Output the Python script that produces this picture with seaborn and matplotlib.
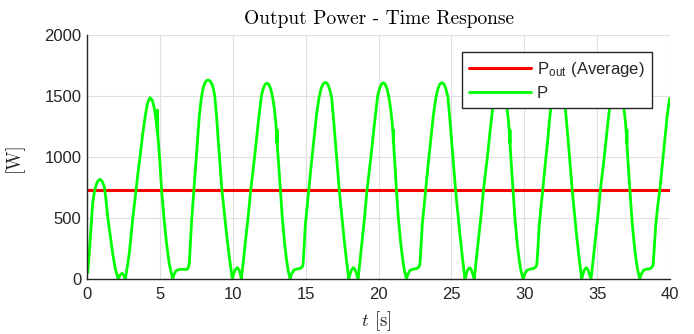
import matplotlib
matplotlib.use("Agg")
import matplotlib.pyplot as plt
import pandas as pd
import seaborn as sns

# ---- data (time in s, power in W) ----
t_seg01 = [0.05, 0.12, 0.2, 0.3, 0.39, 0.5, 0.62, 0.75, 0.89, 1.02, 1.19, 1.3, 1.42, 1.6, 1.76, 1.95, 2.1, 2.15, 2.25, 2.4, 2.52, 2.63]
p_seg01 = [50, 150, 290, 470, 620, 710, 770, 805, 817, 805, 757, 650, 511, 350, 210, 80, 15, 0, 30, 47, 30, 0]

t_seg02 = [2.75, 2.9, 3.13, 3.36, 3.5, 3.64, 3.8, 4.0, 4.15, 4.32, 4.48, 4.6, 4.72, 4.83, 4.84, 4.86, 5.0, 5.12, 5.28, 5.45, 5.65, 5.88]
p_seg02 = [90, 210, 484, 727, 870, 1000, 1170, 1340, 1440, 1486, 1465, 1410, 1320, 1194, 1385, 1180, 960, 727, 500, 300, 120, 0]

t_seg03 = [5.98, 6.12, 6.35, 6.55, 6.75, 6.88, 6.96, 7.02, 7.1, 7.18, 7.26, 7.33, 7.5, 7.62, 7.71, 7.85, 7.98, 8.1, 8.22, 8.33, 8.45, 8.57, 8.68, 8.77, 8.9, 9.0, 9.13, 9.26, 9.42, 9.58, 9.77, 9.97]
p_seg03 = [40, 70, 78, 80, 78, 80, 100, 130, 300, 480, 610, 727, 1000, 1200, 1344, 1490, 1570, 1610, 1628, 1631, 1622, 1598, 1555, 1494, 1320, 1140, 930, 727, 540, 361, 175, 0]

t_seg04 = [10.06, 10.16, 10.31, 10.43, 10.52, 10.59, 10.75, 10.9, 11.05, 11.23, 11.37, 11.5, 11.73, 11.96, 12.1, 12.23, 12.35, 12.47, 12.6, 12.72, 12.85, 12.95, 13.01, 13.03, 13.04, 13.05, 13.15, 13.27, 13.4, 13.55, 13.7, 13.8, 13.93]
p_seg04 = [40, 75, 93, 75, 40, 0, 170, 340, 500, 727, 870, 1000, 1260, 1500, 1565, 1596, 1604, 1596, 1560, 1500, 1400, 1290, 1180, 1115, 1222, 1105, 940, 727, 500, 300, 150, 70, 0]

t_seg05 = [14.03, 14.18, 14.38, 14.63, 14.73, 14.82, 14.9, 14.98, 15.1, 15.21, 15.38, 15.55, 15.75, 15.93, 16.06, 16.2, 16.35, 16.5, 16.64, 16.78, 16.91, 17.04, 17.18, 17.31, 17.46, 17.61, 17.78, 17.96]
p_seg05 = [40, 72, 82, 87, 95, 115, 270, 442, 590, 727, 930, 1126, 1350, 1494, 1560, 1600, 1612, 1600, 1560, 1494, 1320, 1126, 920, 727, 540, 361, 175, 0]

t_seg06 = [18.05, 18.15, 18.28, 18.4, 18.5, 18.6, 18.75, 18.9, 19.04, 19.21, 19.35, 19.48, 19.71, 19.94, 20.08, 20.21, 20.33, 20.45, 20.58, 20.7, 20.83, 20.93, 21.0, 21.02, 21.03, 21.04, 21.12, 21.23, 21.36, 21.52, 21.67, 21.78, 21.92]
p_seg06 = [40, 75, 93, 75, 40, 0, 170, 340, 500, 727, 870, 1000, 1260, 1500, 1565, 1598, 1609, 1598, 1560, 1500, 1400, 1290, 1180, 1115, 1222, 1105, 940, 727, 500, 300, 150, 70, 0]

t_seg07 = [22.02, 22.17, 22.37, 22.62, 22.74, 22.84, 22.92, 23.0, 23.12, 23.23, 23.4, 23.57, 23.77, 23.95, 24.08, 24.21, 24.35, 24.49, 24.62, 24.76, 24.89, 25.02, 25.16, 25.29, 25.44, 25.59, 25.76, 25.93]
p_seg07 = [40, 72, 80, 86, 95, 115, 270, 442, 590, 727, 930, 1126, 1350, 1494, 1560, 1598, 1609, 1598, 1560, 1494, 1320, 1126, 920, 727, 540, 361, 175, 0]

t_seg08 = [26.02, 26.12, 26.26, 26.37, 26.47, 26.57, 26.72, 26.87, 27.02, 27.2, 27.34, 27.47, 27.7, 27.93, 28.07, 28.2, 28.32, 28.44, 28.57, 28.69, 28.82, 28.92, 28.99, 29.01, 29.02, 29.03, 29.11, 29.23, 29.36, 29.51, 29.66, 29.77, 29.92]
p_seg08 = [40, 75, 93, 75, 40, 0, 170, 340, 500, 727, 870, 1000, 1260, 1500, 1565, 1598, 1608, 1598, 1560, 1500, 1400, 1290, 1180, 1115, 1222, 1105, 940, 727, 500, 300, 150, 70, 0]

t_seg09 = [30.03, 30.18, 30.38, 30.63, 30.76, 30.86, 30.95, 31.03, 31.15, 31.27, 31.43, 31.6, 31.77, 31.93, 32.06, 32.2, 32.34, 32.48, 32.61, 32.75, 32.88, 33.02, 33.16, 33.29, 33.44, 33.59, 33.76, 33.94]
p_seg09 = [40, 72, 80, 86, 95, 115, 270, 442, 590, 727, 930, 1126, 1350, 1494, 1560, 1598, 1609, 1598, 1560, 1494, 1320, 1126, 920, 727, 540, 361, 175, 0]

t_seg10 = [34.03, 34.13, 34.25, 34.37, 34.47, 34.58, 34.74, 34.89, 35.04, 35.22, 35.36, 35.49, 35.72, 35.95, 36.09, 36.22, 36.34, 36.46, 36.59, 36.71, 36.84, 36.94, 37.01, 37.03, 37.04, 37.05, 37.13, 37.25, 37.38, 37.53, 37.68, 37.79, 37.93]
p_seg10 = [40, 75, 93, 75, 40, 0, 170, 340, 500, 727, 870, 1000, 1260, 1500, 1565, 1598, 1608, 1598, 1560, 1500, 1400, 1290, 1180, 1115, 1222, 1105, 940, 727, 500, 300, 150, 70, 0]

t_seg11 = [38.03, 38.18, 38.38, 38.6, 38.74, 38.84, 38.93, 39.02, 39.16, 39.3, 39.47, 39.64, 39.8, 39.97]
p_seg11 = [40, 72, 80, 84, 92, 115, 270, 442, 600, 727, 930, 1126, 1330, 1480]

# average output power (constant)
t_avg = [0, 40]
p_avg = [727, 727]

x_ticks = [0, 5, 10, 15, 20, 25, 30, 35, 40]
y_ticks = [0, 500, 1000, 1500, 2000]

title_text = "Output Power - Time Response"
label_avg = r"P$_{\mathrm{out}}$ (Average)"
label_p = "P"

# ---- build table ----
t_all = (t_seg01 + t_seg02 + t_seg03 + t_seg04 + t_seg05 + t_seg06 +
         t_seg07 + t_seg08 + t_seg09 + t_seg10 + t_seg11)
p_all = (p_seg01 + p_seg02 + p_seg03 + p_seg04 + p_seg05 + p_seg06 +
         p_seg07 + p_seg08 + p_seg09 + p_seg10 + p_seg11)
df_p = pd.DataFrame({"t": t_all, "P": p_all})
df_avg = pd.DataFrame({"t": t_avg, "P": p_avg})

# ---- style ----
sns.set_theme(style="whitegrid")
plt.rcParams["font.family"] = ["Liberation Sans", "DejaVu Sans"]
plt.rcParams["mathtext.fontset"] = "custom"
plt.rcParams["mathtext.rm"] = "Liberation Sans"
plt.rcParams["mathtext.it"] = "cmmi10"
plt.rcParams["mathtext.bf"] = "Liberation Sans:bold"

fig = plt.figure(figsize=(6.94, 3.34), dpi=100)
ax = fig.add_axes([87 / 694, 1 - 279 / 334, 583 / 694, 244 / 334])
ax.set_facecolor("white")

sns.lineplot(data=df_avg, x="t", y="P", ax=ax, color="#ff0000", linewidth=2.2,
             label=label_avg, sort=False, estimator=None)
sns.lineplot(data=df_p, x="t", y="P", ax=ax, color="#00ff00", linewidth=2.0,
             label=label_p, sort=False, estimator=None)

ax.set_xlim(0, 40)
ax.set_ylim(0, 2000)
ax.set_xticks(x_ticks)
ax.set_yticks(y_ticks)
ax.grid(True, color="#dfdfdf", linewidth=0.8)
ax.set_axisbelow(True)

for s in ["top", "right"]:
    ax.spines[s].set_visible(False)
for s in ["left", "bottom"]:
    ax.spines[s].set_visible(True)
    ax.spines[s].set_color("#262626")
    ax.spines[s].set_linewidth(1.0)

ax.tick_params(axis="both", direction="in", length=4, width=1.0, color="#262626",
               labelsize=12, labelcolor="#262626")
ax.tick_params(axis="x", pad=6)
ax.tick_params(axis="y", pad=4)

ax.set_title(title_text, fontfamily="cmr10", fontsize=14, pad=8, color="black")
ax.set_xlabel(r"$t$ [s]", fontfamily="cmr10", fontsize=13.5, color="#262626")
ax.set_ylabel("[W]", fontfamily="cmr10", fontsize=13.5, color="#262626")
ax.xaxis.set_label_coords(0.497, -0.125)
ax.yaxis.set_label_coords(-0.108, 0.5)

leg = ax.legend(loc="upper right", bbox_to_anchor=(0.9686, 0.929), borderaxespad=0,
                fontsize=12, frameon=True, fancybox=False, framealpha=1,
                edgecolor="#262626", handlelength=3.7, handletextpad=0.35,
                borderpad=0.45, labelspacing=0.42)
leg.get_frame().set_linewidth(1.0)

fig.savefig("out.png", dpi=100)
